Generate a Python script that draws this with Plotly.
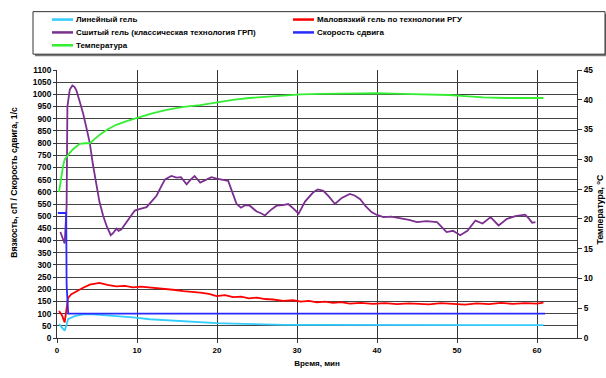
import plotly.graph_objects as go

# ---------------- data ----------------
lin_t = [0.25, 0.6, 0.96, 1.2, 1.38, 2.2, 3.26, 4.5, 5.5, 7.4, 9.5, 11.6, 14, 16, 17.9, 19.95,
         22, 25, 28.3, 32, 36, 40, 45, 50, 55, 60.8]
lin_v = [57, 42, 30, 55, 77, 90, 97, 97, 95, 91, 85, 77, 72, 68, 64, 61,
         59, 56, 54, 54, 54, 54, 54, 53, 53, 53]

rgu_t = [0.25, 0.6, 0.96, 1.2, 1.38, 1.8, 2.43, 3.2, 4.1, 4.7, 5.3, 6.3, 7.4, 8.5, 9.5, 10.5,
         11.6, 12.7, 13.7, 14.8, 15.8, 16.9, 17.9, 19.0, 19.95, 21.0, 22.0, 23.0, 24.0, 25.0,
         26.0, 27.0, 28.3, 29.5, 30.5, 31.5, 32.5, 33.5, 34.5, 35.5, 36.6, 38, 39.5, 41, 42.5,
         44, 45, 46.5, 48, 49.5, 51, 52.5, 54, 55.5, 57, 58.5, 60, 60.8]
rgu_v = [111, 95, 64, 120, 165, 180, 192, 205, 219, 222, 226, 218, 212, 214, 208, 211,
         208, 205, 200, 197, 192, 190, 186, 181, 172, 176, 168, 170, 163, 166,
         160, 158, 152, 155, 149, 152, 146, 149, 144, 147, 141, 144, 140, 143, 139,
         142, 141, 138, 143, 140, 137, 142, 139, 144, 140, 143, 141, 145]

grp_t = [0.42, 0.7, 0.96, 1.2, 1.3, 1.6, 1.93, 2.2, 2.43, 2.8, 3.26, 3.7, 4.1, 4.5, 4.93, 5.3,
         5.76, 6.2, 6.72, 7.0, 7.43, 7.7, 8.06, 8.6, 9.1, 9.72, 10.4, 11.2, 11.8, 12.44, 13.0,
         13.5, 14.3, 14.94, 15.5, 16.2, 16.7, 17.2, 17.9, 18.6, 19.3, 19.95, 20.7, 21.4, 21.9,
         22.45, 23.0, 23.5, 24.1, 24.96, 25.5, 26.0, 26.7, 27.45, 28.2, 28.9, 29.6, 30.2, 31.0,
         32.0, 32.6, 33.3, 34.0, 34.75, 35.6, 36.6, 37.2, 37.9, 38.6, 39.35, 40.0, 40.8, 41.8,
         42.9, 44.0, 45.0, 46.2, 47.5, 48.1, 48.7, 49.5, 50.4, 51.3, 52.3, 53.2, 54.2, 55.2,
         56.25, 57.3, 58.5, 59.0, 59.4, 59.8]
grp_v = [435, 410, 388, 540, 950, 1020, 1036, 1030, 1016, 975, 922, 860, 800, 710, 624, 560,
         503, 460, 422, 430, 449, 440, 446, 470, 496, 523, 530, 537, 560, 584, 620,
         651, 665, 658, 660, 631, 650, 665, 638, 650, 660, 654, 648, 645, 600,
         550, 535, 545, 543, 519, 512, 503, 525, 543, 545, 550, 530, 510, 560,
         597, 610, 604, 580, 550, 575, 591, 585, 570, 540, 516, 505, 496, 498,
         492, 485, 476, 480, 476, 455, 435, 440, 422, 440, 482, 470, 496, 462,
         489, 500, 506, 490, 473, 476]

shear_t = [0.1, 1.15, 1.2, 1.4, 61]
shear_v = [513, 513, 220, 100, 100]

temp_t = [0.25, 0.5, 0.75, 0.96, 1.3, 1.6, 2.0, 2.84, 3.5, 4.1, 4.7, 5.3, 6.3, 7.4, 8.7, 10.1,
          11.9, 13.7, 15.8, 17.9, 19.95, 22, 24, 26, 28.3, 30.5, 33, 36.6, 40, 43, 46.2, 49,
          51, 53.3, 56, 58.5, 60.8]
temp_v = [24.5, 26.8, 28.8, 30.0, 30.7, 31.1, 31.7, 32.6, 32.7, 32.7, 33.4, 34.1, 35.0, 35.8,
          36.4, 37.0, 37.7, 38.3, 38.8, 39.1, 39.6, 40.0, 40.3, 40.5, 40.7, 40.9, 41.0, 41.1,
          41.1, 41.0, 40.9, 40.8, 40.6, 40.4, 40.3, 40.3, 40.3]

names = ["Линейный гель", "Маловязкий гель по технологии РГУ",
         "Сшитый гель (классическая технология ГРП)", "Скорость сдвига", "Температура"]
colors = ["#33CCFF", "#FF0000", "#7B2F8E", "#2A2AFF", "#33EE33"]

x_ticks = [0, 10, 20, 30, 40, 50, 60]
y_ticks = list(range(0, 1101, 50))
y2_ticks = list(range(0, 46, 5))

x_title = "Время, мин"
y_title = "Вязкость, сП / Скорость сдвига, 1/с"
y2_title = "Температура, <sup>о</sup>С"

FONT = "Liberation Sans, Arial, sans-serif"
W, H = 606, 378
ML, MR, MT, MB = 57, 29, 70, 37
PW, PH = W - ML - MR, H - MT - MB


def px2paper(px, py):
    return (px - ML) / PW, (H - MB - py) / PH


fig = go.Figure()
series = [(lin_t, lin_v), (rgu_t, rgu_v), (grp_t, grp_v), (shear_t, shear_v)]
for (t, v), n, c in zip(series, names[:4], colors[:4]):
    fig.add_trace(go.Scatter(x=t, y=v, name=n, mode="lines",
                             line=dict(color=c, width=1.8)))
fig.add_trace(go.Scatter(x=temp_t, y=temp_v, name=names[4], mode="lines", yaxis="y2",
                         line=dict(color=colors[4], width=1.8)))

# ---- hand-drawn legend box (Excel style, with shadow) ----
shapes = []
annotations = []
bx0, by0 = px2paper(35, 56)
bx1, by1 = px2paper(607, 13)
shapes.append(dict(type="rect", xref="paper", yref="paper", x0=bx0, y0=by0, x1=bx1, y1=by1,
                   fillcolor="#777777", line=dict(width=0), layer="above"))
bx0, by0 = px2paper(33, 54)
bx1, by1 = px2paper(605, 11)
shapes.append(dict(type="rect", xref="paper", yref="paper", x0=bx0, y0=by0, x1=bx1, y1=by1,
                   fillcolor="white", line=dict(color="#333333", width=1), layer="above"))
slots = [(52, 19), (293, 19), (52, 32), (293, 32), (52, 45)]
for (sx, sy), n, c in zip(slots, names, colors):
    lx0, ly = px2paper(sx, sy)
    lx1, _ = px2paper(sx + 21, sy)
    shapes.append(dict(type="line", xref="paper", yref="paper", x0=lx0, y0=ly, x1=lx1, y1=ly,
                       line=dict(color=c, width=2.5), layer="above"))
    tx, ty = px2paper(sx + 22, sy)
    annotations.append(dict(text=n, xref="paper", yref="paper", x=tx, y=ty,
                            xanchor="left", yanchor="middle", showarrow=False,
                            font=dict(family=FONT, size=8, color="black", weight="bold")))

# axis titles placed as in the reference
ax, ay = px2paper(14, 184)
annotations.append(dict(text=y_title, xref="paper", yref="paper", x=ax, y=ay,
                        xanchor="center", yanchor="middle", textangle=-90, showarrow=False,
                        font=dict(family=FONT, size=8.6, color="black", weight="bold")))
ax, ay = px2paper(600, 211)
annotations.append(dict(text=y2_title, xref="paper", yref="paper", x=ax, y=ay,
                        xanchor="center", yanchor="middle", textangle=-90, showarrow=False,
                        font=dict(family=FONT, size=8.6, color="black", weight="bold")))

fig.update_layout(
    width=W, height=H,
    margin=dict(l=ML, r=MR, t=MT, b=MB),
    paper_bgcolor="white", plot_bgcolor="white",
    font=dict(family=FONT, size=8, color="black", weight="bold"),
    showlegend=False,
    shapes=shapes,
    annotations=annotations,
    xaxis=dict(range=[0, 65], tickvals=x_ticks, showgrid=True, gridcolor="#333333",
               gridwidth=1, zeroline=False, showline=True, linecolor="#333333",
               ticks="outside", ticklen=4, tickcolor="#333333",
               title=dict(text=x_title, standoff=6, font=dict(size=8, weight="bold")),
               tickfont=dict(size=8, weight="bold")),
    yaxis=dict(range=[0, 1100], tickvals=y_ticks, showgrid=True, gridcolor="#444444",
               gridwidth=1, zeroline=False, showline=True, linecolor="#333333",
               ticks="outside", ticklen=3, tickcolor="#333333",
               tickfont=dict(size=8.3, weight="bold")),
    yaxis2=dict(range=[0, 45], tickvals=y2_ticks, overlaying="y", side="right",
                showgrid=False, zeroline=False, showline=True, linecolor="#333333",
                ticks="outside", ticklen=4, tickcolor="#333333",
                tickfont=dict(size=8.3, weight="bold")),
)

fig.write_html("out.html")
